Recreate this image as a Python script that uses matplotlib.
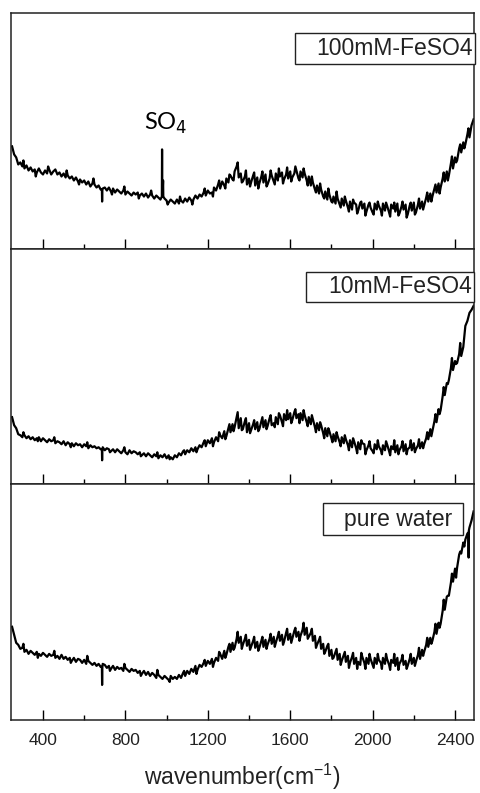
import numpy as np
import matplotlib
matplotlib.use("Agg")
import matplotlib.pyplot as plt
from matplotlib.patches import Rectangle

# wavenumber grid (cm-1), sampled every 10
wn = np.arange(250, 2491, 10)

# intensities (arbitrary units, per panel), 20 per row
fe100 = [102, 94, 91, 84, 86, 82, 80, 83, 78, 81, 77, 79, 76, 80, 76, 74, 78, 75, 79, 74,
         77, 79, 74, 76, 72, 75, 71, 73, 70, 72, 68, 71, 67, 69, 66, 68, 64, 67, 62, 65,
         64, 61, 63, 59, 60, 61, 58, 61, 57, 60, 56, 59, 57, 55, 58, 54, 57, 55, 53, 56,
         54, 56, 53, 55, 52, 55, 51, 54, 53, 50, 53, 51, 49, 52, 50, 48, 46, 49, 47, 45,
         49, 45, 48, 46, 50, 47, 51, 48, 49, 53, 50, 54, 52, 56, 53, 58, 55, 56, 61, 58,
         64, 60, 67, 63, 70, 66, 73, 69, 77, 82, 71, 75, 67, 72, 64, 70, 66, 73, 63, 71,
         65, 72, 66, 74, 64, 70, 73, 67, 75, 68, 72, 76, 69, 74, 70, 77, 71, 75, 78, 70,
         77, 71, 75, 68, 72, 63, 66, 59, 63, 55, 59, 52, 57, 49, 54, 47, 52, 45, 50, 44,
         50, 43, 48, 41, 47, 39, 46, 44, 38, 46, 40, 45, 37, 44, 41, 36, 45, 39, 43, 38,
         45, 38, 43, 36, 44, 40, 37, 45, 35, 42, 39, 44, 34, 43, 38, 46, 36, 44, 40, 47,
         43, 51, 47, 55, 52, 60, 56, 65, 61, 70, 67, 77, 73, 85, 80, 91, 88, 100, 96, 106,
         104, 114, 111, 123, 129]
# narrow spikes between grid points (SO4 line, glitches, noise tips)
fe100_spk_wn = [686, 687, 688, 977, 978, 979, 983, 984,
                305, 365, 425, 515, 575, 645, 735, 795, 865, 925, 1005, 1065, 1125, 1185,
                1225, 1255, 1285, 1305, 1325, 1345, 1365, 1385, 1405, 1425, 1445, 1465,
                1485, 1505, 1525, 1545, 1565, 1585, 1605, 1625, 1645, 1665, 1685, 1705,
                1725, 1745, 1765, 1785, 1805, 1825, 1845, 1865, 1885, 1905, 1925, 1945,
                1965, 1985, 2005, 2025, 2045, 2065, 2085, 2105, 2125, 2145, 2165, 2185,
                2205, 2225, 2245, 2265, 2285, 2305, 2325, 2345, 2365, 2385, 2405, 2425,
                2445, 2465]
fe100_spk = [59, 47, 58, 52, 99, 53, 68, 52,
             88, 72, 82, 78, 64, 70, 54, 62, 50, 58, 44, 52, 44, 60,
             52, 68, 60, 74, 68, 86, 66, 78, 62, 76, 60, 77,
             62, 78, 64, 80, 65, 81, 67, 82, 68, 80, 63, 72,
             56, 65, 50, 60, 46, 57, 41, 52, 37, 49, 35, 47,
             33, 46, 34, 47, 33, 46, 32, 46, 33, 47, 31, 46,
             34, 50, 39, 56, 47, 64, 55, 76, 68, 92, 86, 104,
             100, 120]

fe10 = [67, 59, 56, 50, 49, 47, 49, 46, 48, 45, 47, 44, 46, 47, 43, 46, 44, 42, 45, 43,
        44, 41, 43, 42, 40, 43, 39, 42, 40, 41, 38, 41, 39, 40, 37, 40, 38, 36, 39, 37,
        38, 36, 37, 35, 37, 34, 36, 35, 33, 35, 32, 35, 33, 31, 34, 32, 30, 34, 31, 33,
        32, 30, 32, 29, 31, 28, 31, 29, 27, 30, 28, 26, 29, 27, 30, 26, 29, 27, 25, 29,
        27, 31, 29, 33, 30, 34, 32, 36, 33, 37, 35, 39, 37, 42, 38, 44, 41, 46, 42, 47,
        43, 49, 46, 53, 48, 56, 52, 60, 57, 67, 56, 66, 55, 63, 52, 61, 54, 60, 55, 62,
        55, 63, 57, 64, 58, 66, 59, 61, 67, 60, 69, 62, 70, 64, 65, 71, 64, 72, 66, 70,
        71, 64, 69, 62, 67, 60, 65, 57, 61, 54, 59, 51, 56, 48, 53, 46, 50, 43, 48, 42,
        47, 41, 45, 39, 44, 37, 43, 36, 42, 35, 41, 40, 34, 39, 36, 33, 40, 35, 38, 34,
        39, 34, 40, 33, 38, 35, 32, 39, 34, 38, 33, 40, 35, 37, 34, 41, 35, 39, 36, 42,
        40, 46, 45, 55, 53, 63, 62, 75, 74, 88, 89, 101, 104, 116, 114, 123, 121, 130, 128, 137,
        158, 163, 171, 174, 178]
fe10_spk_wn = [686, 687, 688,
               305, 375, 455, 535, 615, 725, 795, 875, 955, 1015, 1085, 1145, 1185,
               1225, 1255, 1285, 1305, 1325, 1345, 1365, 1385, 1405, 1425, 1445, 1465,
               1485, 1505, 1525, 1545, 1565, 1585, 1605, 1625, 1645, 1665, 1685, 1705,
               1725, 1745, 1765, 1785, 1805, 1825, 1845, 1865, 1885, 1905, 1925, 1945,
               1965, 1985, 2005, 2025, 2045, 2065, 2085, 2105, 2125, 2145, 2165, 2185,
               2205, 2225, 2245, 2265, 2285, 2305, 2325, 2345, 2365, 2385, 2405, 2425]
fe10_spk = [35, 24, 34,
            52, 43, 47, 37, 42, 32, 37, 28, 32, 25, 34, 32, 44,
            38, 52, 45, 60, 53, 72, 54, 66, 51, 64, 53, 67,
            55, 69, 57, 71, 58, 74, 61, 75, 61, 74, 58, 69,
            52, 62, 46, 56, 42, 52, 38, 49, 34, 46, 31, 44,
            30, 43, 31, 44, 30, 43, 29, 44, 30, 43, 30, 44,
            32, 45, 36, 52, 48, 70, 70, 97, 100, 126, 120, 141]

water = [93, 85, 77, 75, 71, 72, 68, 70, 66, 69, 67, 65, 68, 66, 64, 67, 65, 63, 66, 64,
         65, 62, 64, 61, 65, 61, 63, 60, 62, 59, 62, 58, 61, 60, 57, 60, 56, 59, 57, 55,
         57, 54, 56, 53, 56, 55, 52, 54, 51, 54, 50, 53, 51, 52, 49, 52, 50, 48, 51, 49,
         50, 47, 49, 46, 49, 45, 48, 44, 47, 45, 42, 45, 43, 41, 44, 42, 40, 44, 41, 43,
         41, 45, 42, 47, 44, 49, 46, 51, 48, 54, 50, 55, 53, 57, 54, 59, 56, 61, 57, 62,
         59, 66, 61, 69, 65, 73, 68, 77, 72, 81, 77, 83, 75, 81, 74, 80, 73, 79, 72, 78,
         72, 79, 73, 80, 75, 81, 76, 83, 77, 84, 79, 85, 78, 87, 80, 86, 81, 89, 83, 88,
         84, 90, 85, 92, 83, 87, 79, 84, 75, 80, 71, 76, 68, 74, 64, 70, 62, 68, 60, 66,
         59, 65, 58, 64, 57, 63, 56, 62, 58, 55, 63, 57, 62, 56, 61, 55, 62, 56, 60, 57,
         62, 56, 61, 55, 60, 57, 54, 62, 56, 60, 55, 59, 54, 61, 56, 62, 58, 65, 61, 70,
         68, 75, 73, 82, 79, 88, 86, 97, 96, 109, 110, 123, 124, 137, 138, 151, 152, 165, 166, 177,
         180, 186, 192, 199, 208]
water_spk_wn = [686, 687, 688, 2465, 2466, 2467,
                305, 375, 455, 535, 615, 725, 795, 875, 955, 1015, 1085, 1145, 1185,
                1225, 1255, 1285, 1305, 1325, 1345, 1365, 1385, 1405, 1425, 1445, 1465,
                1485, 1505, 1525, 1545, 1565, 1585, 1605, 1625, 1645, 1665, 1685, 1705,
                1725, 1745, 1765, 1785, 1805, 1825, 1845, 1865, 1885, 1905, 1925, 1945,
                1965, 1985, 2005, 2025, 2045, 2065, 2085, 2105, 2125, 2145, 2165, 2185,
                2205, 2225, 2245, 2265, 2285, 2305, 2325, 2345, 2365, 2385, 2405, 2425,
                2445]
water_spk = [53, 35, 52, 187, 162, 189,
             76, 62, 69, 57, 64, 49, 56, 44, 50, 38, 49, 46, 60,
             53, 68, 62, 76, 70, 88, 71, 85, 70, 83, 69, 83,
             71, 86, 73, 88, 75, 91, 77, 92, 79, 97, 81, 91,
             72, 83, 66, 76, 61, 71, 55, 68, 52, 67, 51, 67,
             51, 66, 52, 66, 51, 66, 50, 66, 50, 65, 51, 66,
             54, 72, 64, 82, 76, 96, 92, 120, 124, 146, 142, 168,
             173]

labels = ["100mM-FeSO4", "10mM-FeSO4", "pure water"]
ticks = [400, 800, 1200, 1600, 2000, 2400]


def merge(x, y, sx, sy):
    xx = np.concatenate([x, sx])
    yy = np.concatenate([y, sy])
    o = np.argsort(xx, kind="stable")
    return xx[o], yy[o]


series = [merge(wn, fe100, fe100_spk_wn, fe100_spk),
          merge(wn, fe10, fe10_spk_wn, fe10_spk),
          merge(wn, water, water_spk_wn, water_spk)]

# label boxes in axes coords: (x0, y0, w, h, text x, text y)
boxes = [(0.613, 0.784, 0.389, 0.131, 0.997, 0.850),
         (0.637, 0.774, 0.363, 0.127, 0.996, 0.838),
         (0.674, 0.785, 0.302, 0.136, 0.952, 0.853)]

plt.rcParams['font.family'] = ['Liberation Sans', 'DejaVu Sans']
fig, axes = plt.subplots(3, 1, sharex=True, figsize=(4.8, 7.93), dpi=100)
plt.subplots_adjust(left=0.023, right=0.9875, top=0.9836, bottom=0.092, hspace=0)

for ax, (x, y), lab, b in zip(axes, series, labels, boxes):
    ax.plot(x, y, color="black", lw=1.6)
    ax.set_xlim(245, 2492)
    ax.set_ylim(0, 235)
    ax.set_yticks([])
    ax.set_xticks(ticks)
    ax.set_xticks(np.arange(600, 2400, 400), minor=True)
    ax.tick_params(axis="x", which="major", direction="in", length=7, width=1.0,
                   pad=9, labelsize=12.5, labelcolor="#222222")
    ax.tick_params(axis="x", which="minor", direction="in", length=3.5, width=1.0)
    for s in ax.spines.values():
        s.set_linewidth(1.1)
        s.set_color("#222222")
    r = Rectangle((b[0], b[1]), b[2], b[3], transform=ax.transAxes, fill=True,
                  facecolor="white", edgecolor="#222222", lw=1.0, clip_on=False, zorder=5)
    ax.add_patch(r)
    ax.text(b[4], b[5], lab, transform=ax.transAxes, ha="right", va="center",
            fontsize=16.5, color="#222222", zorder=6)

axes[0].text(995, 112, r"SO$_4$", ha="center", va="bottom", fontsize=17,
             family="Lato", color="black")

fig.text(0.505, 0.02, r"wavenumber(cm$^{\mathregular{-1}}$)", ha="center", va="center",
         fontsize=16.5, color="#222222")

fig.savefig("out.png", dpi=100)
